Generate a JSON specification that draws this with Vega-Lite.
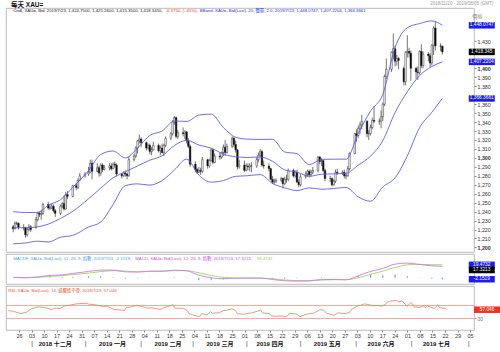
{
"$schema": "https://vega.github.io/schema/vega-lite/v6.json",
"padding": {"left": 5, "top": 0, "right": 0, "bottom": 0},
"spacing": 0,
"config": {"font": "Liberation Sans, Noto Sans CJK TC, sans-serif", "view": {"stroke": "#aaaaaa", "strokeWidth": 0.8}, "axis": {"grid": false, "labelOverlap": false}},
"datasets": {
"px": [
{"d":"2018-11-20","o":1223,"h":1225,"l":1217,"c":1221},
{"d":"2018-11-21","o":1221,"h":1229,"l":1220,"c":1227},
{"d":"2018-11-22","o":1227,"h":1229,"l":1225,"c":1227},
{"d":"2018-11-23","o":1227,"h":1228,"l":1220,"c":1222},
{"d":"2018-11-26","o":1222,"h":1226,"l":1219,"c":1222},
{"d":"2018-11-27","o":1222,"h":1223,"l":1211,"c":1214},
{"d":"2018-11-28","o":1214,"h":1222,"l":1212,"c":1220},
{"d":"2018-11-29","o":1220,"h":1226,"l":1218,"c":1223},
{"d":"2018-11-30","o":1223,"h":1225,"l":1217,"c":1220},
{"d":"2018-12-03","o":1222,"h":1234,"l":1221,"c":1231},
{"d":"2018-12-04","o":1231,"h":1240,"l":1229,"c":1238},
{"d":"2018-12-05","o":1238,"h":1240,"l":1234,"c":1237},
{"d":"2018-12-06","o":1237,"h":1242,"l":1231,"c":1238},
{"d":"2018-12-07","o":1238,"h":1250,"l":1236,"c":1248},
{"d":"2018-12-10","o":1248,"h":1251,"l":1242,"c":1244},
{"d":"2018-12-11","o":1244,"h":1248,"l":1242,"c":1244},
{"d":"2018-12-12","o":1244,"h":1249,"l":1243,"c":1246},
{"d":"2018-12-13","o":1246,"h":1248,"l":1239,"c":1241},
{"d":"2018-12-14","o":1241,"h":1243,"l":1234,"c":1238},
{"d":"2018-12-17","o":1238,"h":1248,"l":1236,"c":1246},
{"d":"2018-12-18","o":1246,"h":1251,"l":1244,"c":1249},
{"d":"2018-12-19","o":1249,"h":1258,"l":1241,"c":1243},
{"d":"2018-12-20","o":1243,"h":1262,"l":1242,"c":1259},
{"d":"2018-12-21","o":1259,"h":1263,"l":1254,"c":1257},
{"d":"2018-12-24","o":1257,"h":1270,"l":1256,"c":1269},
{"d":"2018-12-26","o":1269,"h":1272,"l":1264,"c":1267},
{"d":"2018-12-27","o":1267,"h":1277,"l":1265,"c":1275},
{"d":"2018-12-28","o":1275,"h":1283,"l":1274,"c":1280},
{"d":"2018-12-31","o":1280,"h":1284,"l":1278,"c":1282},
{"d":"2019-01-02","o":1282,"h":1290,"l":1280,"c":1284},
{"d":"2019-01-03","o":1284,"h":1298,"l":1283,"c":1294},
{"d":"2019-01-04","o":1294,"h":1298,"l":1276,"c":1285},
{"d":"2019-01-07","o":1285,"h":1294,"l":1284,"c":1289},
{"d":"2019-01-08","o":1289,"h":1291,"l":1279,"c":1283},
{"d":"2019-01-09","o":1283,"h":1294,"l":1280,"c":1292},
{"d":"2019-01-10","o":1292,"h":1294,"l":1284,"c":1287},
{"d":"2019-01-11","o":1287,"h":1292,"l":1286,"c":1289},
{"d":"2019-01-14","o":1289,"h":1294,"l":1286,"c":1291},
{"d":"2019-01-15","o":1291,"h":1294,"l":1286,"c":1288},
{"d":"2019-01-16","o":1288,"h":1295,"l":1287,"c":1293},
{"d":"2019-01-17","o":1293,"h":1296,"l":1289,"c":1292},
{"d":"2019-01-18","o":1292,"h":1294,"l":1279,"c":1282},
{"d":"2019-01-21","o":1282,"h":1283,"l":1277,"c":1280},
{"d":"2019-01-22","o":1280,"h":1285,"l":1279,"c":1283},
{"d":"2019-01-23","o":1283,"h":1286,"l":1279,"c":1282},
{"d":"2019-01-24","o":1282,"h":1283,"l":1276,"c":1280},
{"d":"2019-01-25","o":1280,"h":1302,"l":1279,"c":1298},
{"d":"2019-01-28","o":1298,"h":1304,"l":1296,"c":1302},
{"d":"2019-01-29","o":1302,"h":1313,"l":1300,"c":1311},
{"d":"2019-01-30","o":1311,"h":1320,"l":1305,"c":1319},
{"d":"2019-01-31","o":1319,"h":1326,"l":1316,"c":1321},
{"d":"2019-02-01","o":1321,"h":1323,"l":1312,"c":1317},
{"d":"2019-02-04","o":1317,"h":1318,"l":1308,"c":1311},
{"d":"2019-02-05","o":1311,"h":1316,"l":1309,"c":1314},
{"d":"2019-02-06","o":1314,"h":1316,"l":1304,"c":1307},
{"d":"2019-02-07","o":1307,"h":1312,"l":1303,"c":1309},
{"d":"2019-02-08","o":1309,"h":1318,"l":1308,"c":1314},
{"d":"2019-02-11","o":1314,"h":1316,"l":1306,"c":1308},
{"d":"2019-02-12","o":1308,"h":1314,"l":1303,"c":1311},
{"d":"2019-02-13","o":1311,"h":1316,"l":1305,"c":1306},
{"d":"2019-02-14","o":1306,"h":1316,"l":1302,"c":1314},
{"d":"2019-02-15","o":1314,"h":1324,"l":1312,"c":1322},
{"d":"2019-02-18","o":1322,"h":1329,"l":1320,"c":1327},
{"d":"2019-02-19","o":1327,"h":1342,"l":1325,"c":1340},
{"d":"2019-02-20","o":1340,"h":1347,"l":1337,"c":1345},
{"d":"2019-02-21","o":1345,"h":1346,"l":1322,"c":1324},
{"d":"2019-02-22","o":1324,"h":1331,"l":1321,"c":1328},
{"d":"2019-02-25","o":1328,"h":1334,"l":1324,"c":1327},
{"d":"2019-02-26","o":1327,"h":1331,"l":1321,"c":1329},
{"d":"2019-02-27","o":1329,"h":1330,"l":1316,"c":1319},
{"d":"2019-02-28","o":1319,"h":1322,"l":1311,"c":1313},
{"d":"2019-03-01","o":1313,"h":1315,"l":1290,"c":1293},
{"d":"2019-03-04","o":1293,"h":1296,"l":1284,"c":1287},
{"d":"2019-03-05","o":1287,"h":1289,"l":1282,"c":1284},
{"d":"2019-03-06","o":1284,"h":1290,"l":1283,"c":1286},
{"d":"2019-03-07","o":1286,"h":1289,"l":1281,"c":1285},
{"d":"2019-03-08","o":1285,"h":1301,"l":1283,"c":1298},
{"d":"2019-03-11","o":1298,"h":1299,"l":1288,"c":1291},
{"d":"2019-03-12","o":1291,"h":1299,"l":1289,"c":1297},
{"d":"2019-03-13","o":1297,"h":1311,"l":1296,"c":1309},
{"d":"2019-03-14","o":1309,"h":1310,"l":1293,"c":1295},
{"d":"2019-03-15","o":1295,"h":1305,"l":1294,"c":1302},
{"d":"2019-03-18","o":1302,"h":1306,"l":1298,"c":1301},
{"d":"2019-03-19","o":1301,"h":1307,"l":1299,"c":1306},
{"d":"2019-03-20","o":1306,"h":1315,"l":1302,"c":1312},
{"d":"2019-03-21","o":1312,"h":1320,"l":1302,"c":1306},
{"d":"2019-03-22","o":1306,"h":1316,"l":1305,"c":1313},
{"d":"2019-03-25","o":1313,"h":1324,"l":1311,"c":1322},
{"d":"2019-03-26","o":1322,"h":1323,"l":1312,"c":1315},
{"d":"2019-03-27","o":1315,"h":1319,"l":1306,"c":1309},
{"d":"2019-03-28","o":1309,"h":1310,"l":1287,"c":1290},
{"d":"2019-03-29","o":1290,"h":1298,"l":1288,"c":1292},
{"d":"2019-04-01","o":1292,"h":1297,"l":1284,"c":1286},
{"d":"2019-04-02","o":1286,"h":1294,"l":1285,"c":1291},
{"d":"2019-04-03","o":1291,"h":1294,"l":1286,"c":1290},
{"d":"2019-04-04","o":1290,"h":1294,"l":1285,"c":1291},
{"d":"2019-04-05","o":1291,"h":1295,"l":1284,"c":1291},
{"d":"2019-04-08","o":1291,"h":1301,"l":1289,"c":1298},
{"d":"2019-04-09","o":1298,"h":1306,"l":1295,"c":1303},
{"d":"2019-04-10","o":1303,"h":1310,"l":1301,"c":1307},
{"d":"2019-04-11","o":1307,"h":1309,"l":1290,"c":1292},
{"d":"2019-04-12","o":1292,"h":1297,"l":1288,"c":1291},
{"d":"2019-04-15","o":1291,"h":1294,"l":1285,"c":1288},
{"d":"2019-04-16","o":1288,"h":1289,"l":1275,"c":1276},
{"d":"2019-04-17","o":1276,"h":1280,"l":1271,"c":1273},
{"d":"2019-04-18","o":1273,"h":1277,"l":1270,"c":1274},
{"d":"2019-04-19","o":1274,"h":1277,"l":1272,"c":1275},
{"d":"2019-04-22","o":1275,"h":1279,"l":1273,"c":1277},
{"d":"2019-04-23","o":1277,"h":1278,"l":1266,"c":1271},
{"d":"2019-04-24","o":1271,"h":1279,"l":1270,"c":1276},
{"d":"2019-04-25","o":1276,"h":1281,"l":1272,"c":1276},
{"d":"2019-04-26","o":1276,"h":1288,"l":1274,"c":1286},
{"d":"2019-04-29","o":1286,"h":1288,"l":1278,"c":1280},
{"d":"2019-04-30","o":1280,"h":1286,"l":1278,"c":1284},
{"d":"2019-05-01","o":1284,"h":1287,"l":1272,"c":1273},
{"d":"2019-05-02","o":1273,"h":1276,"l":1267,"c":1270},
{"d":"2019-05-03","o":1270,"h":1282,"l":1268,"c":1279},
{"d":"2019-05-06","o":1279,"h":1285,"l":1277,"c":1282},
{"d":"2019-05-07","o":1282,"h":1287,"l":1279,"c":1285},
{"d":"2019-05-08","o":1285,"h":1287,"l":1278,"c":1281},
{"d":"2019-05-09","o":1281,"h":1287,"l":1279,"c":1284},
{"d":"2019-05-10","o":1284,"h":1290,"l":1282,"c":1286},
{"d":"2019-05-13","o":1286,"h":1302,"l":1284,"c":1301},
{"d":"2019-05-14","o":1301,"h":1302,"l":1293,"c":1296},
{"d":"2019-05-15","o":1296,"h":1300,"l":1291,"c":1297},
{"d":"2019-05-16","o":1297,"h":1298,"l":1284,"c":1286},
{"d":"2019-05-17","o":1286,"h":1288,"l":1274,"c":1277},
{"d":"2019-05-20","o":1277,"h":1280,"l":1273,"c":1277},
{"d":"2019-05-21","o":1277,"h":1278,"l":1268,"c":1270},
{"d":"2019-05-22","o":1270,"h":1276,"l":1269,"c":1274},
{"d":"2019-05-23","o":1274,"h":1287,"l":1272,"c":1284},
{"d":"2019-05-24","o":1284,"h":1288,"l":1281,"c":1283},
{"d":"2019-05-27","o":1283,"h":1286,"l":1281,"c":1284},
{"d":"2019-05-28","o":1284,"h":1287,"l":1277,"c":1280},
{"d":"2019-05-29","o":1280,"h":1283,"l":1276,"c":1280},
{"d":"2019-05-30","o":1280,"h":1291,"l":1279,"c":1288},
{"d":"2019-05-31","o":1288,"h":1306,"l":1286,"c":1305},
{"d":"2019-06-03","o":1305,"h":1328,"l":1304,"c":1327},
{"d":"2019-06-04","o":1327,"h":1332,"l":1318,"c":1325},
{"d":"2019-06-05","o":1325,"h":1336,"l":1322,"c":1333},
{"d":"2019-06-06","o":1333,"h":1340,"l":1327,"c":1337},
{"d":"2019-06-07","o":1337,"h":1348,"l":1332,"c":1341},
{"d":"2019-06-10","o":1341,"h":1342,"l":1323,"c":1327},
{"d":"2019-06-11","o":1327,"h":1331,"l":1320,"c":1327},
{"d":"2019-06-12","o":1327,"h":1337,"l":1325,"c":1334},
{"d":"2019-06-13","o":1334,"h":1345,"l":1332,"c":1342},
{"d":"2019-06-14","o":1342,"h":1358,"l":1339,"c":1341},
{"d":"2019-06-17","o":1341,"h":1344,"l":1337,"c":1341},
{"d":"2019-06-18","o":1341,"h":1353,"l":1333,"c":1346},
{"d":"2019-06-19","o":1346,"h":1362,"l":1341,"c":1360},
{"d":"2019-06-20","o":1360,"h":1393,"l":1358,"c":1391},
{"d":"2019-06-21","o":1391,"h":1411,"l":1388,"c":1399},
{"d":"2019-06-24","o":1399,"h":1419,"l":1396,"c":1418},
{"d":"2019-06-25","o":1418,"h":1439,"l":1410,"c":1422},
{"d":"2019-06-26","o":1422,"h":1425,"l":1402,"c":1408},
{"d":"2019-06-27","o":1408,"h":1415,"l":1403,"c":1411},
{"d":"2019-06-28","o":1411,"h":1413,"l":1399,"c":1409},
{"d":"2019-07-01","o":1400,"h":1402,"l":1381,"c":1385},
{"d":"2019-07-02","o":1385,"h":1419,"l":1381,"c":1418},
{"d":"2019-07-03","o":1418,"h":1437,"l":1412,"c":1419},
{"d":"2019-07-04","o":1419,"h":1423,"l":1412,"c":1417},
{"d":"2019-07-05","o":1417,"h":1420,"l":1386,"c":1400},
{"d":"2019-07-08","o":1400,"h":1402,"l":1388,"c":1396},
{"d":"2019-07-09","o":1396,"h":1402,"l":1387,"c":1395},
{"d":"2019-07-10","o":1395,"h":1420,"l":1393,"c":1419},
{"d":"2019-07-11","o":1419,"h":1427,"l":1400,"c":1403},
{"d":"2019-07-12","o":1403,"h":1419,"l":1400,"c":1416},
{"d":"2019-07-15","o":1416,"h":1418,"l":1408,"c":1414},
{"d":"2019-07-16","o":1414,"h":1417,"l":1401,"c":1406},
{"d":"2019-07-17","o":1406,"h":1427,"l":1403,"c":1426},
{"d":"2019-07-18","o":1426,"h":1447,"l":1415,"c":1445},
{"d":"2019-07-19","o":1445,"h":1453,"l":1420,"c":1425},
{"d":"2019-07-22","o":1425,"h":1428,"l":1419,"c":1424.75},
{"d":"2019-07-23","o":1424.75,"h":1425.26,"l":1415.35,"c":1418.345}
],
"bb": [
{"d":"2018-11-20","u":1240,"m":1222,"lo":1204},
{"d":"2018-11-27","u":1239,"m":1222,"lo":1205},
{"d":"2018-12-04","u":1239,"m":1223,"lo":1207},
{"d":"2018-12-10","u":1247,"m":1226,"lo":1206},
{"d":"2018-12-17","u":1253.3,"m":1232.4,"lo":1211.4},
{"d":"2018-12-24","u":1267.1,"m":1240.3,"lo":1213.4},
{"d":"2019-01-02","u":1285.8,"m":1254.3,"lo":1222.8},
{"d":"2019-01-09","u":1303.9,"m":1266.2,"lo":1228.4},
{"d":"2019-01-16","u":1307.7,"m":1277.8,"lo":1247.9},
{"d":"2019-01-23","u":1300,"m":1284.5,"lo":1269},
{"d":"2019-01-30","u":1311,"m":1291,"lo":1271},
{"d":"2019-02-06","u":1325.1,"m":1297.4,"lo":1269.6},
{"d":"2019-02-13","u":1330,"m":1302.4,"lo":1274.7},
{"d":"2019-02-20","u":1341.2,"m":1313.8,"lo":1286.4},
{"d":"2019-02-27","u":1340.7,"m":1319.7,"lo":1298.6},
{"d":"2019-03-06","u":1347.8,"m":1314.3,"lo":1280.8},
{"d":"2019-03-13","u":1348.9,"m":1310.9,"lo":1272.9},
{"d":"2019-03-20","u":1333.9,"m":1304.3,"lo":1274.7},
{"d":"2019-03-27","u":1323,"m":1301.2,"lo":1279.4},
{"d":"2019-04-03","u":1320.9,"m":1300.5,"lo":1280.1},
{"d":"2019-04-10","u":1320.6,"m":1301,"lo":1281.4},
{"d":"2019-04-17","u":1320.8,"m":1296.2,"lo":1271.6},
{"d":"2019-04-24","u":1306.6,"m":1286.6,"lo":1266.6},
{"d":"2019-05-01","u":1304.7,"m":1284.1,"lo":1263.5},
{"d":"2019-05-08","u":1292.5,"m":1279.5,"lo":1266.5},
{"d":"2019-05-15","u":1298.3,"m":1281.7,"lo":1265},
{"d":"2019-05-22","u":1298.6,"m":1282.2,"lo":1265.8},
{"d":"2019-05-29","u":1298.6,"m":1282.8,"lo":1267},
{"d":"2019-06-05","u":1327.3,"m":1291.9,"lo":1256.4},
{"d":"2019-06-12","u":1352.3,"m":1302,"lo":1251.6},
{"d":"2019-06-19","u":1371,"m":1319.3,"lo":1267.5},
{"d":"2019-06-26","u":1423.4,"m":1350.6,"lo":1277.8},
{"d":"2019-07-03","u":1445.4,"m":1373.8,"lo":1302.2},
{"d":"2019-07-10","u":1450,"m":1391.9,"lo":1333.8},
{"d":"2019-07-17","u":1453,"m":1402,"lo":1351},
{"d":"2019-07-23","u":1448.07,"m":1407.22,"lo":1366.37}
],
"macd": [
{"d":"2018-11-20","macd":0.5,"sig":0.5,"h":0},
{"d":"2018-11-27","macd":0,"sig":0.3,"h":-0.3},
{"d":"2018-12-04","macd":1.5,"sig":0.7,"h":0.8},
{"d":"2018-12-11","macd":3.5,"sig":2,"h":1.5},
{"d":"2018-12-18","macd":4.5,"sig":3.3,"h":1.2},
{"d":"2018-12-24","macd":6.5,"sig":4.8,"h":1.7},
{"d":"2019-01-02","macd":9.5,"sig":7,"h":2.5},
{"d":"2019-01-09","macd":11.5,"sig":9.3,"h":2.2},
{"d":"2019-01-16","macd":11.5,"sig":10.6,"h":0.9},
{"d":"2019-01-23","macd":9,"sig":10,"h":-1},
{"d":"2019-01-30","macd":8.5,"sig":9.2,"h":-0.7},
{"d":"2019-02-06","macd":10,"sig":9.4,"h":0.6},
{"d":"2019-02-13","macd":10,"sig":9.8,"h":0.2},
{"d":"2019-02-20","macd":11.5,"sig":10.6,"h":0.9},
{"d":"2019-02-27","macd":10.5,"sig":10.7,"h":-0.2},
{"d":"2019-03-06","macd":4,"sig":7.5,"h":-3.5},
{"d":"2019-03-13","macd":0,"sig":3.5,"h":-3.5},
{"d":"2019-03-20","macd":-1.5,"sig":0.8,"h":-2.3},
{"d":"2019-03-27","macd":-0.5,"sig":-0.2,"h":-0.3},
{"d":"2019-04-03","macd":-0.5,"sig":-0.4,"h":-0.1},
{"d":"2019-04-10","macd":-0.5,"sig":-0.5,"h":0},
{"d":"2019-04-17","macd":-2.5,"sig":-1.5,"h":-1},
{"d":"2019-04-24","macd":-4.5,"sig":-3.2,"h":-1.3},
{"d":"2019-05-01","macd":-5,"sig":-4.3,"h":-0.7},
{"d":"2019-05-08","macd":-4.5,"sig":-4.6,"h":0.1},
{"d":"2019-05-15","macd":-2.5,"sig":-3.5,"h":1},
{"d":"2019-05-22","macd":-2.5,"sig":-2.9,"h":0.4},
{"d":"2019-05-29","macd":-3,"sig":-2.9,"h":-0.1},
{"d":"2019-06-05","macd":3,"sig":0.2,"h":2.8},
{"d":"2019-06-12","macd":9.5,"sig":5,"h":4.5},
{"d":"2019-06-19","macd":14,"sig":10,"h":4},
{"d":"2019-06-26","macd":20.5,"sig":15.5,"h":5},
{"d":"2019-07-03","macd":22,"sig":19.5,"h":2.5},
{"d":"2019-07-10","macd":20,"sig":20.2,"h":-0.2},
{"d":"2019-07-17","macd":18,"sig":19.6,"h":-1.6},
{"d":"2019-07-23","macd":17.32,"sig":19.47,"h":-2.15}
],
"rsi": [
{"d":"2018-11-20","r":55},{"d":"2018-11-23","r":52},{"d":"2018-11-27","r":45},{"d":"2018-11-30","r":49},
{"d":"2018-12-03","r":60},{"d":"2018-12-07","r":66},{"d":"2018-12-11","r":63},{"d":"2018-12-14","r":58},
{"d":"2018-12-17","r":62},{"d":"2018-12-19","r":60},{"d":"2018-12-21","r":68},{"d":"2018-12-24","r":71},
{"d":"2018-12-28","r":75},{"d":"2019-01-03","r":77},{"d":"2019-01-04","r":74},{"d":"2019-01-08","r":72},
{"d":"2019-01-11","r":68},{"d":"2019-01-15","r":66},{"d":"2019-01-18","r":58},{"d":"2019-01-22","r":56},
{"d":"2019-01-24","r":55},{"d":"2019-01-25","r":64},{"d":"2019-01-28","r":66},{"d":"2019-01-31","r":71},
{"d":"2019-02-04","r":65},{"d":"2019-02-06","r":62},{"d":"2019-02-08","r":63},{"d":"2019-02-13","r":58},
{"d":"2019-02-15","r":63},{"d":"2019-02-20","r":72},{"d":"2019-02-21","r":62},{"d":"2019-02-26","r":61},
{"d":"2019-02-28","r":54},{"d":"2019-03-01","r":45},{"d":"2019-03-05","r":38},{"d":"2019-03-07","r":36},
{"d":"2019-03-08","r":45},{"d":"2019-03-11","r":41},{"d":"2019-03-13","r":51},{"d":"2019-03-14","r":46},
{"d":"2019-03-18","r":48},{"d":"2019-03-20","r":54},{"d":"2019-03-22","r":55},{"d":"2019-03-25","r":60},
{"d":"2019-03-27","r":54},{"d":"2019-03-28","r":45},{"d":"2019-04-01","r":43},{"d":"2019-04-03","r":46},
{"d":"2019-04-05","r":47},{"d":"2019-04-09","r":54},{"d":"2019-04-10","r":56},{"d":"2019-04-11","r":47},
{"d":"2019-04-15","r":45},{"d":"2019-04-16","r":38},{"d":"2019-04-18","r":37},{"d":"2019-04-22","r":38},
{"d":"2019-04-23","r":35},{"d":"2019-04-25","r":38},{"d":"2019-04-26","r":46},{"d":"2019-04-30","r":44},
{"d":"2019-05-02","r":36},{"d":"2019-05-06","r":44},{"d":"2019-05-08","r":45},{"d":"2019-05-10","r":47},
{"d":"2019-05-13","r":57},{"d":"2019-05-15","r":56},{"d":"2019-05-17","r":46},{"d":"2019-05-21","r":40},
{"d":"2019-05-23","r":47},{"d":"2019-05-28","r":45},{"d":"2019-05-30","r":51},{"d":"2019-05-31","r":59},
{"d":"2019-06-03","r":68},{"d":"2019-06-05","r":71},{"d":"2019-06-07","r":75},{"d":"2019-06-10","r":72},
{"d":"2019-06-12","r":69},{"d":"2019-06-14","r":70},{"d":"2019-06-17","r":68},{"d":"2019-06-18","r":72},
{"d":"2019-06-19","r":75},{"d":"2019-06-20","r":81},{"d":"2019-06-21","r":83},{"d":"2019-06-25","r":86},
{"d":"2019-06-26","r":80},{"d":"2019-06-28","r":84},{"d":"2019-07-01","r":67},{"d":"2019-07-02","r":74},
{"d":"2019-07-03","r":80},{"d":"2019-07-05","r":65},{"d":"2019-07-08","r":64},{"d":"2019-07-10","r":69},
{"d":"2019-07-11","r":63},{"d":"2019-07-12","r":69},{"d":"2019-07-16","r":61},{"d":"2019-07-17","r":67},
{"d":"2019-07-18","r":72},{"d":"2019-07-19","r":63},{"d":"2019-07-22","r":62},{"d":"2019-07-23","r":57.05}
]
},
"vconcat": [
{
"width": 468, "height": 244,
"layer": [
{"data": {"name": "px"}, "mark": {"type": "rule", "color": "#3a3a3a", "strokeWidth": 0.7},
 "encoding": {
  "x": {"field": "d", "type": "temporal", "axis": null, "scale": {"type": "utc", "nice": false, "domain": [{"year":2018,"month":11,"date":18,"hours":18,"utc":true},{"year":2019,"month":8,"date":7,"hours":5,"utc":true}]}},
  "y": {"field": "l", "type": "quantitative", "scale": {"domain": [1194.9, 1467.4], "nice": false, "zero": false},
   "axis": {"orient": "right", "title": null, "tickCount": 40, "values": [1200,1210,1220,1230,1240,1250,1260,1270,1280,1290,1300,1310,1320,1330,1340,1350,1360,1380,1390,1400,1430], "format": ",.0f", "labelFontSize": 5.3, "labelColor": "#333", "labelOverlap": false, "tickSize": 2, "tickColor": "#888", "domain": false, "labelPadding": 1, "labelFontWeight": {"condition": {"test": "datum.value % 100 === 0", "value": "bold"}, "value": "normal"}}},
  "y2": {"field": "h"}}},
{"data": {"name": "px"}, "mark": {"type": "bar", "size": 1.6, "stroke": "#333", "strokeWidth": 0.5},
 "encoding": {"x": {"field": "d", "type": "temporal", "axis": null}, "y": {"field": "o", "type": "quantitative"}, "y2": {"field": "c"}, "fill": {"condition": {"test": "datum.c >= datum.o", "value": "#ffffff"}, "value": "#000000"}}},
{"data": {"name": "bb"}, "mark": {"type": "line", "color": "#5b5bf5", "strokeWidth": 0.9, "interpolate": "monotone"}, "encoding": {"x": {"field": "d", "type": "temporal", "axis": null}, "y": {"field": "u", "type": "quantitative"}}},
{"data": {"name": "bb"}, "mark": {"type": "line", "color": "#5b5bf5", "strokeWidth": 0.9, "interpolate": "monotone"}, "encoding": {"x": {"field": "d", "type": "temporal", "axis": null}, "y": {"field": "m", "type": "quantitative"}}},
{"data": {"name": "bb"}, "mark": {"type": "line", "color": "#5b5bf5", "strokeWidth": 0.9, "interpolate": "monotone"}, "encoding": {"x": {"field": "d", "type": "temporal", "axis": null}, "y": {"field": "lo", "type": "quantitative"}}},
{"data": {"values": [{}]}, "mark": {"type": "text", "align": "left", "baseline": "middle", "fontSize": 6.5, "fontWeight": "bold", "color": "#111"},
 "encoding": {"x": {"datum": {"year":2018,"month":11,"date":18,"hours":18,"utc":true}, "type": "temporal", "axis": null}, "y": {"datum": 1471.3, "type": "quantitative"}, "text": {"value": "每天 XAU="}}},
{"data": {"values": [{}]}, "mark": {"type": "text", "align": "left", "baseline": "middle", "fontSize": 4.3, "color": "#222"},
 "encoding": {"x": {"datum": {"year":2018,"month":11,"date":20,"utc":true}, "type": "temporal", "axis": null}, "y": {"datum": 1463.5, "type": "quantitative"}, "text": {"value": "Cndl, XAU=, Bid, 2019/7/23, 1,424.7500, 1,425.2600, 1,415.3500, 1,418.3450,"}}},
{"data": {"values": [{}]}, "mark": {"type": "text", "align": "left", "baseline": "middle", "fontSize": 4.3, "color": "#e8341c"},
 "encoding": {"x": {"datum": {"year":2019,"month":2,"date":15,"utc":true}, "type": "temporal", "axis": null}, "y": {"datum": 1463.5, "type": "quantitative"}, "text": {"value": "-6.3750, (-.45%),"}}},
{"data": {"values": [{}]}, "mark": {"type": "text", "align": "left", "baseline": "middle", "fontSize": 4.3, "color": "#2a2ae6"},
 "encoding": {"x": {"datum": {"year":2019,"month":3,"date":6,"hours":12,"utc":true}, "type": "temporal", "axis": null}, "y": {"datum": 1463.5, "type": "quantitative"}, "text": {"value": "BBand, XAU=, Bid(Last), 20, 簡單, 2.0, 2019/7/23, 1,448.0747, 1,407.2204, 1,366.3661"}}},
{"data": {"values": [{}]}, "mark": {"type": "text", "align": "right", "baseline": "middle", "fontSize": 4.5, "color": "#999"},
 "encoding": {"x": {"datum": {"year":2019,"month":8,"date":21,"utc":true}, "type": "temporal", "axis": null}, "y": {"datum": 1472.4, "type": "quantitative"}, "text": {"value": "2018/11/20 - 2019/08/05 (GMT)"}}},
{"data": {"values": [{}]}, "mark": {"type": "text", "align": "left", "baseline": "middle", "fontSize": 5, "color": "#888"},
 "encoding": {"x": {"datum": {"year":2019,"month":8,"date":9,"utc":true}, "type": "temporal", "axis": null}, "y": {"datum": 1458.2, "type": "quantitative"}, "text": {"value": "價格"}}},
{"data": {"values": [{"v": 1448.0747, "k": "band"}, {"v": 1418.345, "k": "last"}, {"v": 1407.2204, "k": "band"}, {"v": 1366.3661, "k": "band"}]},
 "mark": {"type": "point", "shape": "M-1,-0.25H1V0.25H-1Z", "size": 676, "filled": true, "opacity": 1, "strokeWidth": 0},
 "encoding": {"x": {"datum": {"year":2019,"month":8,"date":14,"hours":12,"utc":true}, "type": "temporal", "axis": null}, "y": {"field": "v", "type": "quantitative"}, "color": {"field": "k", "type": "nominal", "legend": null, "scale": {"domain": ["band", "last"], "range": ["#1c1cf0", "#000000"]}}}},
{"data": {"values": [{"v": 1448.0747, "t": "1,448.0747"}, {"v": 1418.345, "t": "1,418.345"}, {"v": 1407.2204, "t": "1,407.2204"}, {"v": 1366.3661, "t": "1,366.3661"}]},
 "mark": {"type": "text", "align": "center", "baseline": "middle", "fontSize": 4.8, "color": "#ffffff"},
 "encoding": {"x": {"datum": {"year":2019,"month":8,"date":14,"hours":12,"utc":true}, "type": "temporal", "axis": null}, "y": {"field": "v", "type": "quantitative"}, "text": {"field": "t"}}}
]
},
{
"width": 468, "height": 30,
"layer": [
{"data": {"name": "macd"}, "mark": {"type": "bar", "size": 1, "color": "#3a9be8"},
 "encoding": {
  "x": {"field": "d", "type": "temporal", "axis": null, "scale": {"type": "utc", "nice": false, "domain": [{"year":2018,"month":11,"date":18,"hours":18,"utc":true},{"year":2019,"month":8,"date":7,"hours":5,"utc":true}]}},
  "y": {"field": "h", "type": "quantitative", "axis": null, "scale": {"domain": [-9.3, 35.7], "nice": false, "zero": false}}, "y2": {"datum": 0}}},
{"data": {"name": "macd"}, "mark": {"type": "line", "color": "#9bd85a", "strokeWidth": 0.9, "interpolate": "monotone"}, "encoding": {"x": {"field": "d", "type": "temporal", "axis": null}, "y": {"field": "sig", "type": "quantitative"}}},
{"data": {"name": "macd"}, "mark": {"type": "line", "color": "#d774e8", "strokeWidth": 0.9, "interpolate": "monotone"}, "encoding": {"x": {"field": "d", "type": "temporal", "axis": null}, "y": {"field": "macd", "type": "quantitative"}}},
{"data": {"values": [{}]}, "mark": {"type": "text", "align": "left", "baseline": "middle", "fontSize": 4.3, "color": "#3b9fe8"},
 "encoding": {"x": {"datum": {"year":2018,"month":11,"date":20,"utc":true}, "type": "temporal", "axis": null}, "y": {"datum": 27.5, "type": "quantitative"}, "text": {"value": "MACDF, XAU=, Bid(Last), 12, 26, 9, 指數, 2019/7/23, -2.1519,"}}},
{"data": {"values": [{}]}, "mark": {"type": "text", "align": "left", "baseline": "middle", "fontSize": 4.3, "color": "#c74fe0"},
 "encoding": {"x": {"datum": {"year":2019,"month":1,"date":28,"hours":16,"utc":true}, "type": "temporal", "axis": null}, "y": {"datum": 27.5, "type": "quantitative"}, "text": {"value": "MACD, XAU=, Bid(Last), 12, 26, 9, 指數, 2019/7/23, 17.3213,"}}},
{"data": {"values": [{}]}, "mark": {"type": "text", "align": "left", "baseline": "middle", "fontSize": 4.3, "color": "#7ccf3a"},
 "encoding": {"x": {"datum": {"year":2019,"month":4,"date":8,"utc":true}, "type": "temporal", "axis": null}, "y": {"datum": 27.5, "type": "quantitative"}, "text": {"value": "19.4732"}}},
{"data": {"values": [{"v": 19.47, "k": "sig"}, {"v": 11.7, "k": "macd"}, {"v": -2.15, "k": "hist"}]},
 "mark": {"type": "point", "shape": "M-1,-0.25H1V0.25H-1Z", "size": 676, "filled": true, "opacity": 1, "strokeWidth": 0},
 "encoding": {"x": {"datum": {"year":2019,"month":8,"date":14,"hours":12,"utc":true}, "type": "temporal", "axis": null}, "y": {"field": "v", "type": "quantitative"}, "color": {"field": "k", "type": "nominal", "legend": null, "scale": {"domain": ["sig", "macd", "hist"], "range": ["#66c41e", "#b040e0", "#1e8fe8"]}}}},
{"data": {"values": [{"v": 19.47, "t": "19.4732"}, {"v": 11.7, "t": "17.3213"}, {"v": -2.15, "t": "-2.1519"}]},
 "mark": {"type": "text", "align": "center", "baseline": "middle", "fontSize": 4.8, "color": "#ffffff"},
 "encoding": {"x": {"datum": {"year":2019,"month":8,"date":14,"hours":12,"utc":true}, "type": "temporal", "axis": null}, "y": {"field": "v", "type": "quantitative"}, "text": {"field": "t"}}}
]
},
{
"width": 468, "height": 44,
"resolve": {"axis": {"x": "independent"}},
"layer": [
{"data": {"values": [{}]}, "mark": {"type": "rule", "color": "#f9a899", "strokeWidth": 1.2},
 "encoding": {
  "x": {"datum": {"year":2018,"month":11,"date":18,"hours":18,"utc":true}, "type": "temporal",
    "scale": {"type": "utc", "nice": false, "domain": [{"year":2018,"month":11,"date":18,"hours":18,"utc":true},{"year":2019,"month":8,"date":7,"hours":5,"utc":true}]},
    "axis": {"orient": "bottom", "offset": 10, "title": null, "ticks": false, "domain": false, "labelFontSize": 6, "labelFontWeight": "bold", "labelColor": "#111", "labelPadding": 0, "labelFlush": false, "labelOverlap": false, "tickCount": 40,
      "values": [{"year":2018,"month":12,"date":16,"utc":true},{"year":2019,"month":1,"date":17,"utc":true},{"year":2019,"month":2,"date":17,"utc":true},{"year":2019,"month":3,"date":18,"utc":true},{"year":2019,"month":4,"date":15,"utc":true},{"year":2019,"month":5,"date":17,"utc":true},{"year":2019,"month":6,"date":16,"utc":true},{"year":2019,"month":7,"date":17,"utc":true}],
      "labelExpr": "utcFormat(datum.value, '%Y') + ' ' + ['一月','二月','三月','四月','五月','六月','七月','八月','九月','十月','十一月','十二月'][utcmonth(datum.value)]"}},
  "x2": {"datum": {"year":2019,"month":8,"date":7,"hours":5,"utc":true}},
  "y": {"datum": 70, "type": "quantitative", "scale": {"domain": [-5.4, 130], "nice": false, "zero": false},
    "axis": {"orient": "right", "title": null, "values": [30], "labelFontSize": 5, "labelColor": "#777", "tickSize": 2, "tickColor": "#999", "domain": false, "labelPadding": 1}}}},
{"data": {"values": [{}]}, "mark": {"type": "rule", "color": "#f9a899", "strokeWidth": 1.2},
 "encoding": {
  "x": {"datum": {"year":2018,"month":11,"date":18,"hours":18,"utc":true}, "type": "temporal",
    "axis": {"orient": "bottom", "offset": 10, "title": null, "ticks": false, "domain": false, "labelFontSize": 6.5, "labelColor": "#333", "labelPadding": 0, "labelFlush": false, "labelOverlap": false, "tickCount": 40,
      "values": [{"year":2018,"month":12,"date":3,"utc":true},{"year":2019,"month":1,"date":2,"utc":true},{"year":2019,"month":2,"date":2,"utc":true},{"year":2019,"month":3,"date":3,"utc":true},{"year":2019,"month":4,"date":2,"utc":true},{"year":2019,"month":5,"date":2,"utc":true},{"year":2019,"month":6,"date":2,"utc":true},{"year":2019,"month":7,"date":3,"utc":true},{"year":2019,"month":8,"date":4,"utc":true}],
      "labelExpr": "'|'"}},
  "x2": {"datum": {"year":2019,"month":8,"date":7,"hours":5,"utc":true}},
  "y": {"datum": 30, "type": "quantitative"}}},
{"data": {"name": "rsi"}, "mark": {"type": "line", "color": "#f27a5e", "strokeWidth": 0.8},
 "encoding": {
  "x": {"field": "d", "type": "temporal",
    "axis": {"orient": "bottom", "title": null, "domain": false, "tickSize": 2, "tickColor": "#888", "labelFontSize": 5.5, "labelColor": "#333", "labelPadding": 1, "labelFlush": false, "labelOverlap": false, "tickCount": 40,
      "labelExpr": "utcFormat(datum.value, '%d')",
      "values": [{"year":2018,"month":11,"date":26,"utc":true},{"year":2018,"month":12,"date":3,"utc":true},{"year":2018,"month":12,"date":10,"utc":true},{"year":2018,"month":12,"date":17,"utc":true},{"year":2018,"month":12,"date":24,"utc":true},{"year":2018,"month":12,"date":31,"utc":true},{"year":2019,"month":1,"date":7,"utc":true},{"year":2019,"month":1,"date":14,"utc":true},{"year":2019,"month":1,"date":21,"utc":true},{"year":2019,"month":1,"date":28,"utc":true},{"year":2019,"month":2,"date":4,"utc":true},{"year":2019,"month":2,"date":11,"utc":true},{"year":2019,"month":2,"date":18,"utc":true},{"year":2019,"month":2,"date":25,"utc":true},{"year":2019,"month":3,"date":4,"utc":true},{"year":2019,"month":3,"date":11,"utc":true},{"year":2019,"month":3,"date":18,"utc":true},{"year":2019,"month":3,"date":25,"utc":true},{"year":2019,"month":4,"date":1,"utc":true},{"year":2019,"month":4,"date":8,"utc":true},{"year":2019,"month":4,"date":15,"utc":true},{"year":2019,"month":4,"date":22,"utc":true},{"year":2019,"month":4,"date":29,"utc":true},{"year":2019,"month":5,"date":6,"utc":true},{"year":2019,"month":5,"date":13,"utc":true},{"year":2019,"month":5,"date":20,"utc":true},{"year":2019,"month":5,"date":27,"utc":true},{"year":2019,"month":6,"date":3,"utc":true},{"year":2019,"month":6,"date":10,"utc":true},{"year":2019,"month":6,"date":17,"utc":true},{"year":2019,"month":6,"date":24,"utc":true},{"year":2019,"month":7,"date":1,"utc":true},{"year":2019,"month":7,"date":8,"utc":true},{"year":2019,"month":7,"date":15,"utc":true},{"year":2019,"month":7,"date":22,"utc":true},{"year":2019,"month":7,"date":29,"utc":true},{"year":2019,"month":8,"date":5,"utc":true}]}},
  "y": {"field": "r", "type": "quantitative"}}},
{"data": {"values": [{}]}, "mark": {"type": "text", "align": "left", "baseline": "middle", "fontSize": 4.3, "color": "#f0502d"},
 "encoding": {"x": {"datum": {"year":2018,"month":11,"date":20,"utc":true}, "type": "temporal", "axis": null}, "y": {"datum": 116, "type": "quantitative"}, "text": {"value": "RSI, XAU=, Bid(Last), 14, 威爾德平滑, 2019/7/23, 57.046"}}},
{"data": {"values": [{"v": 57.05}]}, "mark": {"type": "point", "shape": "M-1,-0.25H1V0.25H-1Z", "size": 676, "filled": true, "opacity": 1, "strokeWidth": 0, "color": "#f0321e"},
 "encoding": {"x": {"datum": {"year":2019,"month":8,"date":14,"hours":12,"utc":true}, "type": "temporal", "axis": null}, "y": {"field": "v", "type": "quantitative"}}},
{"data": {"values": [{"v": 57.05, "t": "57.046"}]}, "mark": {"type": "text", "align": "center", "baseline": "middle", "fontSize": 4.8, "color": "#ffffff"},
 "encoding": {"x": {"datum": {"year":2019,"month":8,"date":14,"hours":12,"utc":true}, "type": "temporal", "axis": null}, "y": {"field": "v", "type": "quantitative"}, "text": {"field": "t"}}}
]
}
]
}
